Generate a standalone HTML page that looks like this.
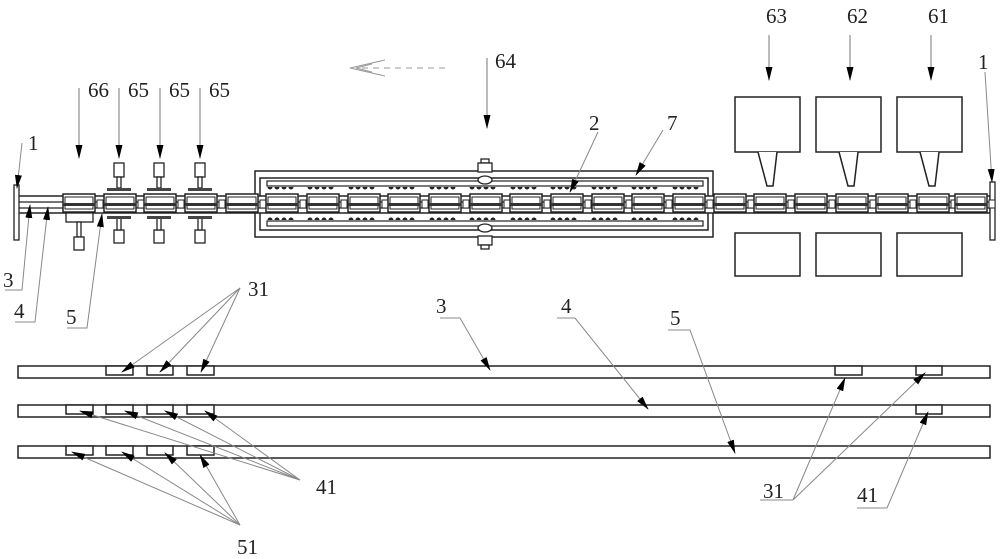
<!DOCTYPE html>
<html><head><meta charset="utf-8"><style>
html,body{margin:0;padding:0;background:#fff;}
svg{display:block;}
text{font-family:"Liberation Serif",serif;font-size:21px;fill:#222;}
</style></head><body>
<svg width="1000" height="559" viewBox="0 0 1000 559" xmlns="http://www.w3.org/2000/svg">
<defs>
<marker id="ah" markerWidth="15" markerHeight="7" refX="13" refY="3" orient="auto" markerUnits="userSpaceOnUse" viewBox="0 0 15 6" preserveAspectRatio="none">
<path d="M0,0 L14,3 L0,6 Z" fill="#000"/></marker>
<g id="blk">
<rect x="0" y="194" width="32" height="18" fill="#fff" stroke="#222" stroke-width="1.5"/>
<rect x="2" y="197" width="28" height="12" fill="none" stroke="#222" stroke-width="1"/>
<rect x="0" y="203" width="32" height="3" fill="#333"/>
<rect x="34" y="200" width="6" height="8" fill="#fff" stroke="#222" stroke-width="1"/>
</g>
<g id="heat">
<path d="M0,0 a2,2 0 0 0 4,0 M7,0 a2,2 0 0 0 4,0 M14,0 a2,2 0 0 0 4,0 M21,0 a2,2 0 0 0 4,0" fill="#222" stroke="#222" stroke-width="1"/>
</g>
<g id="heatb">
<path d="M0,0 a2,2 0 0 1 4,0 M7,0 a2,2 0 0 1 4,0 M14,0 a2,2 0 0 1 4,0 M21,0 a2,2 0 0 1 4,0" fill="#222" stroke="#222" stroke-width="1"/>
</g>
</defs>

<g stroke="#999" stroke-width="1" fill="none">
<line x1="362" y1="68" x2="445" y2="68" stroke-dasharray="6,5"/>
<path d="M385,60 L350,68 L385,76"/>
<path d="M372,64 L356,68 L372,72"/>
</g>

<rect x="255" y="171" width="458" height="66" fill="#fff" stroke="#222" stroke-width="1.5"/>
<rect x="260" y="178" width="448" height="52" fill="none" stroke="#222" stroke-width="1.5"/>
<rect x="267" y="181" width="436" height="5" fill="none" stroke="#222" stroke-width="1.2"/>
<rect x="267" y="221" width="436" height="5" fill="none" stroke="#222" stroke-width="1.2"/>
<g>
<use href="#heat" x="268" y="187"/><use href="#heat" x="308" y="187"/><use href="#heat" x="349" y="187"/><use href="#heat" x="389" y="187"/><use href="#heat" x="430" y="187"/><use href="#heat" x="470" y="187"/><use href="#heat" x="511" y="187"/><use href="#heat" x="551" y="187"/><use href="#heat" x="592" y="187"/><use href="#heat" x="632" y="187"/><use href="#heat" x="673" y="187"/>
<use href="#heatb" x="268" y="220"/><use href="#heatb" x="308" y="220"/><use href="#heatb" x="349" y="220"/><use href="#heatb" x="389" y="220"/><use href="#heatb" x="430" y="220"/><use href="#heatb" x="470" y="220"/><use href="#heatb" x="511" y="220"/><use href="#heatb" x="551" y="220"/><use href="#heatb" x="592" y="220"/><use href="#heatb" x="632" y="220"/><use href="#heatb" x="673" y="220"/>
</g>
<g fill="#fff" stroke="#222" stroke-width="1.3">
<rect x="481" y="159" width="8" height="4"/><rect x="478" y="163" width="14" height="9"/><ellipse cx="485" cy="180" rx="7" ry="4"/>
<rect x="478" y="236" width="14" height="9"/><rect x="481" y="245" width="8" height="4"/><ellipse cx="485" cy="228" rx="7" ry="4"/>
</g>

<rect x="17" y="196" width="973" height="17" fill="#fff" stroke="#222" stroke-width="1.5"/>
<line x1="17" y1="202" x2="990" y2="202" stroke="#222" stroke-width="1.2"/>
<line x1="17" y1="208" x2="990" y2="208" stroke="#222" stroke-width="1.2"/>
<rect x="14" y="185" width="5" height="55" fill="#fff" stroke="#222" stroke-width="1.3"/>
<rect x="990" y="182" width="5" height="58" fill="#fff" stroke="#222" stroke-width="1.3"/>

<g>
<use href="#blk" x="63"/><use href="#blk" x="104"/><use href="#blk" x="144"/><use href="#blk" x="185"/><use href="#blk" x="226"/><use href="#blk" x="266"/><use href="#blk" x="307"/><use href="#blk" x="348"/><use href="#blk" x="388"/><use href="#blk" x="429"/><use href="#blk" x="470"/><use href="#blk" x="510"/><use href="#blk" x="551"/><use href="#blk" x="592"/><use href="#blk" x="632"/><use href="#blk" x="673"/><use href="#blk" x="714"/><use href="#blk" x="754"/><use href="#blk" x="795"/><use href="#blk" x="836"/><use href="#blk" x="876"/><use href="#blk" x="917"/><use href="#blk" x="955"/>
</g>

<g fill="#fff" stroke="#222" stroke-width="1.3">
<rect x="114" y="163" width="10" height="14"/><rect x="117" y="177" width="4" height="11"/>
<rect x="154" y="163" width="10" height="14"/><rect x="157" y="177" width="4" height="11"/>
<rect x="195" y="163" width="10" height="14"/><rect x="198" y="177" width="4" height="11"/>
<rect x="114" y="230" width="10" height="13"/><rect x="117" y="218" width="4" height="12"/>
<rect x="154" y="230" width="10" height="13"/><rect x="157" y="218" width="4" height="12"/>
<rect x="195" y="230" width="10" height="13"/><rect x="198" y="218" width="4" height="12"/>
<rect x="66" y="213" width="27" height="9"/><rect x="77" y="222" width="4" height="15"/><rect x="74" y="237" width="10" height="13"/>
</g>
<g fill="#444">
<rect x="107" y="188" width="24" height="3"/><rect x="147" y="188" width="24" height="3"/><rect x="188" y="188" width="24" height="3"/>
<rect x="107" y="216" width="24" height="3"/><rect x="147" y="216" width="24" height="3"/><rect x="188" y="216" width="24" height="3"/>
</g>

<g fill="#fff" stroke="#222" stroke-width="1.5">
<rect x="735" y="97" width="65" height="55"/><rect x="816" y="97" width="65" height="55"/><rect x="897" y="97" width="65" height="55"/>
<path d="M758,152 L767,186 L773,186 L777,152"/>
<path d="M839,152 L848,186 L854,186 L858,152"/>
<path d="M920,152 L929,186 L935,186 L939,152"/>
<rect x="735" y="233" width="65" height="43"/><rect x="816" y="233" width="65" height="43"/><rect x="897" y="233" width="65" height="43"/>
</g>

<g stroke="#777" stroke-width="1" marker-end="url(#ah)">
<line x1="79" y1="88" x2="79" y2="158"/><line x1="119" y1="88" x2="119" y2="158"/><line x1="160" y1="88" x2="160" y2="158"/><line x1="200" y1="88" x2="200" y2="158"/>
<line x1="487" y1="58" x2="487" y2="128"/>
<line x1="769" y1="35" x2="769" y2="80"/><line x1="850" y1="35" x2="850" y2="80"/><line x1="931" y1="35" x2="931" y2="80"/>
</g>
<text x="88" y="97">66</text><text x="128" y="97">65</text><text x="169" y="97">65</text><text x="209" y="97">65</text>
<text x="495" y="68">64</text>
<text x="766" y="23">63</text><text x="847" y="23">62</text><text x="928" y="23">61</text>

<g stroke="#888" stroke-width="1" fill="none" marker-end="url(#ah)">
<line x1="22" y1="143" x2="17" y2="188"/>
<line x1="985" y1="72" x2="992" y2="182"/>
<line x1="598" y1="132" x2="570" y2="192"/>
<line x1="663" y1="130" x2="636" y2="175"/>
<polyline points="5,290 22,290 30,205"/>
<polyline points="15,322 35,322 48,207"/>
<polyline points="67,328 87,328 102,214"/>
</g>
<text x="28" y="150">1</text><text x="978" y="69">1</text>
<text x="589" y="130">2</text><text x="667" y="130">7</text>
<text x="3" y="287">3</text><text x="14" y="318">4</text><text x="66" y="324">5</text>

<g fill="#fff" stroke="#222" stroke-width="1.5">
<rect x="18" y="366" width="972" height="12"/>
<rect x="18" y="405" width="972" height="12"/>
<rect x="18" y="446" width="972" height="12"/>
</g>
<g fill="#fff" stroke="#222" stroke-width="1.5">
<rect x="106" y="366" width="27" height="9"/><rect x="147" y="366" width="26" height="9"/><rect x="187" y="366" width="27" height="9"/>
<rect x="835" y="366" width="27" height="9"/><rect x="916" y="366" width="26" height="9"/>
<rect x="66" y="405" width="27" height="9"/><rect x="106" y="405" width="27" height="9"/><rect x="147" y="405" width="26" height="9"/><rect x="187" y="405" width="27" height="9"/>
<rect x="916" y="405" width="26" height="9"/>
<rect x="66" y="446" width="27" height="9"/><rect x="106" y="446" width="27" height="9"/><rect x="147" y="446" width="26" height="9"/><rect x="187" y="446" width="27" height="9"/>
</g>

<g stroke="#888" stroke-width="1" fill="none" marker-end="url(#ah)">
<polyline points="440,318 460,318 490,370"/>
<polyline points="557,318 575,318 648,409"/>
<polyline points="668,330 690,330 735,453"/>
<line x1="240" y1="288" x2="122" y2="372"/><line x1="240" y1="288" x2="160" y2="372"/><line x1="240" y1="288" x2="201" y2="372"/>
<line x1="300" y1="480" x2="80" y2="411"/><line x1="300" y1="480" x2="125" y2="411"/><line x1="300" y1="480" x2="165" y2="411"/><line x1="300" y1="480" x2="205" y2="411"/>
<line x1="240" y1="525" x2="72" y2="452"/><line x1="240" y1="525" x2="122" y2="452"/><line x1="240" y1="525" x2="165" y2="453"/><line x1="240" y1="525" x2="200" y2="455"/>
<line x1="793" y1="500" x2="845" y2="378"/><line x1="793" y1="500" x2="925" y2="373"/>
<line x1="887" y1="508" x2="928" y2="412"/>
</g>
<g stroke="#888" stroke-width="1">
<line x1="760" y1="500" x2="793" y2="500"/><line x1="857" y1="508" x2="887" y2="508"/>
</g>
<text x="436" y="313">3</text><text x="561" y="313">4</text><text x="670" y="325">5</text>
<text x="248" y="296">31</text>
<text x="316" y="494">41</text>
<text x="237" y="554">51</text>
<text x="763" y="498">31</text>
<text x="857" y="502">41</text>
</svg>
</body></html>
